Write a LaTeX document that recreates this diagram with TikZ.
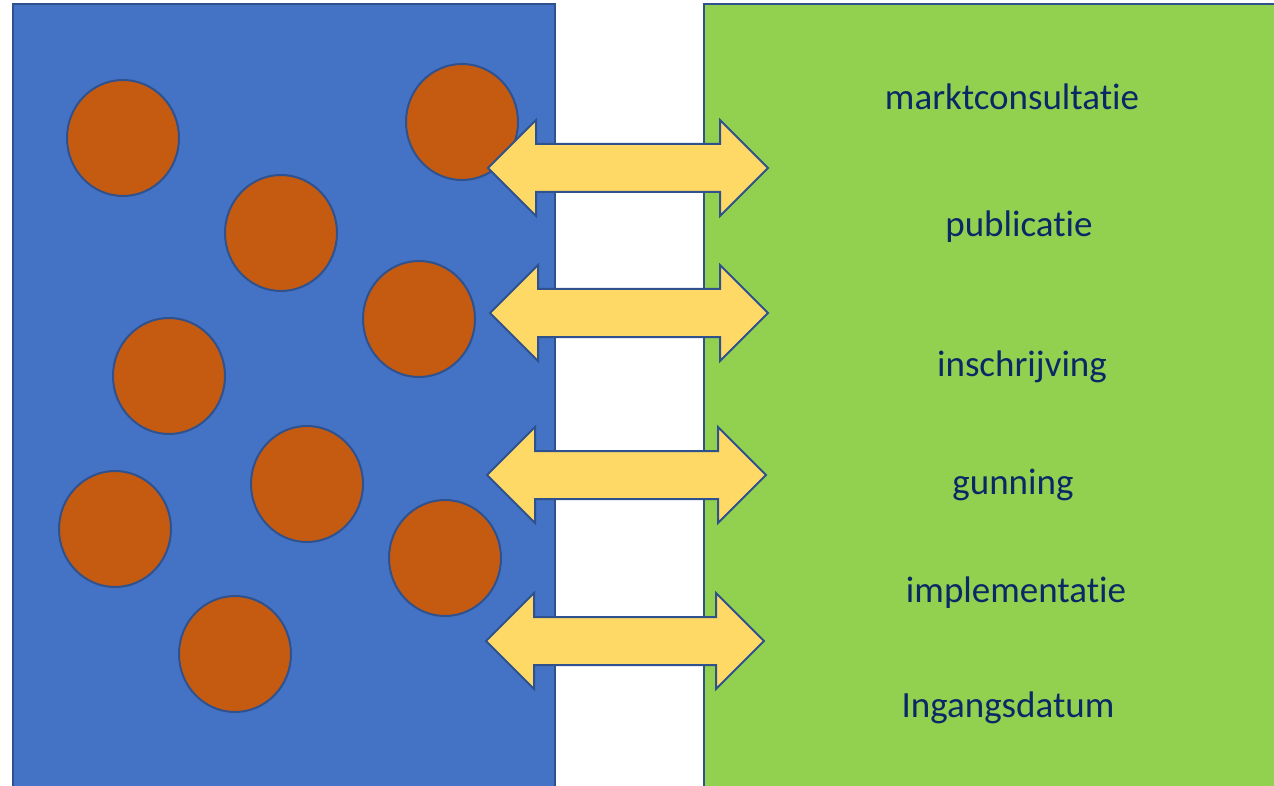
\documentclass[tikz,border=0pt]{standalone}
\usepackage{fontspec}
\setmainfont{Carlito}[Ligatures=NoCommon]
\usetikzlibrary{shapes.geometric}

\definecolor{vakblauw}{HTML}{4472C4}
\definecolor{vakgroen}{HTML}{92D050}
\definecolor{bolrood}{HTML}{C55A11}
\definecolor{pijlgeel}{HTML}{FFD966}
\definecolor{rand}{HTML}{2F528F}
\definecolor{tekst}{HTML}{0B2866}

\begin{document}
\begin{tikzpicture}[x=1pt,y=-1pt,
		vak/.style={draw=rand,line width=2pt},
		bol/.style={ellipse,draw=rand,line width=2pt,fill=bolrood,minimum width=112pt,minimum height=116pt,inner sep=0pt},
		pijl/.style={draw=rand,line width=2pt,fill=pijlgeel,line join=miter},
		fase/.style={anchor=base,inner sep=0pt,text=tekst,font=\fontsize{37}{44}\selectfont}]
		\useasboundingbox (0,0) rectangle (1274,786);
		\clip (0,0) rectangle (1274,786);
		\draw[vak,fill=vakblauw] (13,4) rectangle (555,800);
		\draw[vak,fill=vakgroen] (704,4) rectangle (1290,800);
		\foreach \n/\x/\y in {1/123/138, 2/462/122, 3/281/233, 4/419/319, 5/169/376, 6/307/484, 7/115/529, 8/445/558, 9/235/654}
			\node[bol] (bol\n) at (\x,\y) {};
		\foreach \l/\r/\y in {488/768/168, 490/768/313, 487/766/475, 486/764/641}
			\draw[pijl] (\l,\y) -- (\l+48,\y-48) -- (\l+48,\y-24) -- (\r-48,\y-24) -- (\r-48,\y-48) -- (\r,\y) -- (\r-48,\y+48) -- (\r-48,\y+24) -- (\l+48,\y+24) -- (\l+48,\y+48) -- cycle;
		\node[fase] (markt) at (1012,110) {marktconsultatie};
		\node[fase] (publ) at (1019,237) {publicatie};
		\node[fase] (inschr) at (1022,376) {inschrijving};
		\node[fase] (gunn) at (1013,494) {gunning};
		\node[fase] (impl) at (1016,602) {implementatie};
		\node[fase] (ingang) at (1008,717) {Ingangsdatum};
	\end{tikzpicture}
\end{document}
